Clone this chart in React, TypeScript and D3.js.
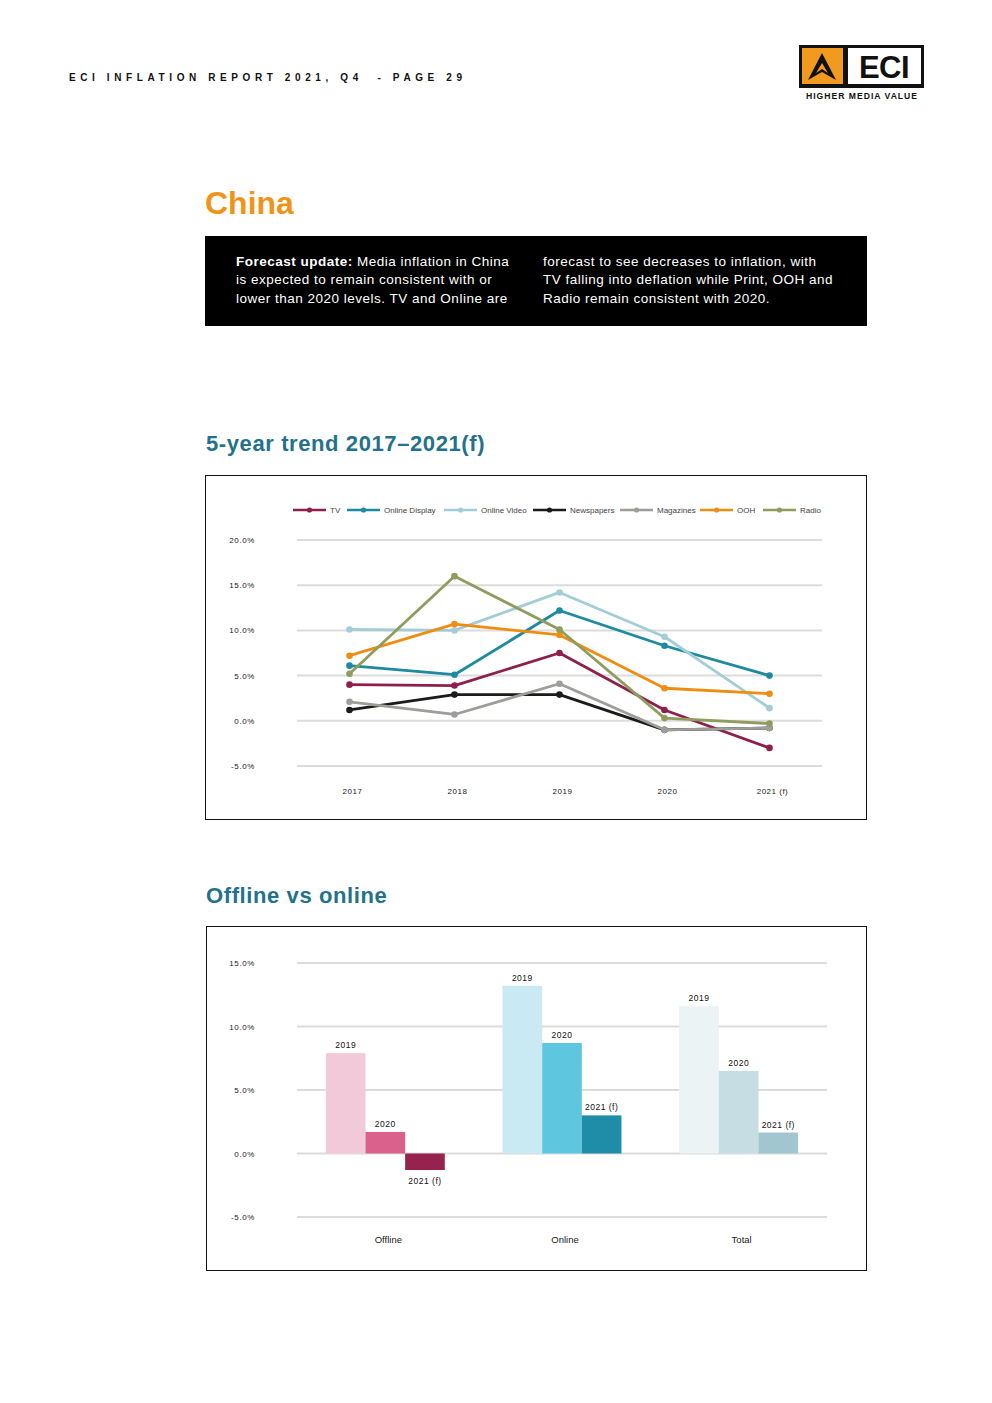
import React, { useEffect, useRef } from 'react';
import * as d3 from 'd3';

// ---- data ----
const years = ['2017', '2018', '2019', '2020', '2021 (f)'];

const lineSeries = [
  { name: 'TV', color: '#8e1f4d', values: [4.0, 3.9, 7.5, 1.2, -3.0] },
  { name: 'Online Display', color: '#1e8aa0', values: [6.1, 5.1, 12.2, 8.3, 5.0] },
  { name: 'Online Video', color: '#a3cdd6', values: [10.1, 10.0, 14.2, 9.3, 1.4] },
  { name: 'Newspapers', color: '#1b1b1b', values: [1.2, 2.9, 2.9, -1.0, -0.8] },
  { name: 'Magazines', color: '#9d9d9a', values: [2.1, 0.7, 4.1, -1.0, -0.8] },
  { name: 'OOH', color: '#ee8d12', values: [7.2, 10.7, 9.5, 3.6, 3.0] },
  { name: 'Radio', color: '#8f9c5e', values: [5.2, 16.0, 10.1, 0.3, -0.3] }
];

const lineTicks = [-5, 0, 5, 10, 15, 20];

const barCategories = ['Offline', 'Online', 'Total'];
const barYears = ['2019', '2020', '2021 (f)'];
const offlineValues = [7.9, 1.7, -1.3];
const onlineValues = [13.2, 8.7, 3.0];
const totalValues = [11.6, 6.5, 1.65];
const offlineColors = ['#f2c9d8', '#d9618b', '#96234d'];
const onlineColors = ['#c9eaf3', '#5fc6e0', '#1f8da8'];
const totalColors = ['#ebf3f5', '#c6dde3', '#a1c6cf'];
const barTicks = [-5, 0, 5, 10, 15];

const FONT = '"Liberation Sans", Arial, sans-serif';

const App: React.FC = () => {
  const svgRef = useRef<SVGSVGElement>(null);

  useEffect(() => {
    if (!svgRef.current) return;
    const svg = d3.select(svgRef.current);
    svg.selectAll('*').remove();

    svg.append('rect').attr('width', 992).attr('height', 1403).attr('fill', '#fff');

    // header
    svg.append('text')
      .attr('x', 69).attr('y', 81)
      .attr('font-family', FONT).attr('font-weight', 700)
      .attr('font-size', 10).attr('letter-spacing', 4.6)
      .attr('fill', '#111')
      .attr('xml:space', 'preserve')
      .text('ECI INFLATION REPORT 2021, Q4  - PAGE 29');

    // logo
    const logo = svg.append('g');
    logo.append('rect').attr('x', 799).attr('y', 45).attr('width', 125).attr('height', 43).attr('fill', '#111');
    logo.append('rect').attr('x', 802).attr('y', 48).attr('width', 41).attr('height', 36).attr('fill', '#f29a1e');
    logo.append('rect').attr('x', 848).attr('y', 48).attr('width', 73).attr('height', 36).attr('fill', '#fff');
    logo.append('path')
      .attr('d', 'M822,53 L836,80 L822,72 L808,80 Z M822,63 L828,73 L822,69 L816,73 Z')
      .attr('fill', '#111').attr('fill-rule', 'evenodd');
    logo.append('text')
      .attr('x', 884).attr('y', 78).attr('text-anchor', 'middle')
      .attr('font-family', FONT).attr('font-weight', 900)
      .attr('font-size', 31).attr('fill', '#111').attr('letter-spacing', -0.5)
      .text('ECI');
    logo.append('text')
      .attr('x', 862).attr('y', 99).attr('text-anchor', 'middle')
      .attr('font-family', FONT).attr('font-weight', 900)
      .attr('font-size', 8.6).attr('fill', '#111').attr('letter-spacing', 1.0)
      .text('HIGHER MEDIA VALUE');

    // title
    svg.append('text')
      .attr('x', 205).attr('y', 214)
      .attr('font-family', FONT).attr('font-weight', 700)
      .attr('font-size', 32).attr('fill', '#ef9418')
      .text('China');

    // forecast box
    svg.append('rect').attr('x', 205).attr('y', 236).attr('width', 662).attr('height', 90).attr('fill', '#000');
    const bodyText = (x: number, y: number) =>
      svg.append('text').attr('x', x).attr('y', y)
        .attr('font-family', FONT).attr('font-size', 13.5)
        .attr('letter-spacing', 0.5).attr('fill', '#fff');
    const l1 = bodyText(236, 266);
    l1.append('tspan').attr('font-weight', 700).text('Forecast update:');
    l1.append('tspan').text(' Media inflation in China');
    bodyText(236, 284).text('is expected to remain consistent with or');
    bodyText(236, 303).text('lower than 2020 levels. TV and Online are');
    bodyText(543, 266).text('forecast to see decreases to inflation, with');
    bodyText(543, 284).text('TV falling into deflation while Print, OOH and');
    bodyText(543, 303).text('Radio remain consistent with 2020.');

    // section titles
    const sectionTitle = (y: number, t: string) =>
      svg.append('text').attr('x', 206).attr('y', y)
        .attr('font-family', FONT).attr('font-weight', 700)
        .attr('font-size', 22).attr('letter-spacing', 0.6)
        .attr('fill', '#23718b').text(t);
    sectionTitle(451, '5-year trend 2017\u20132021(f)');
    sectionTitle(903, 'Offline vs online');

    const tickFmt = (v: number) => `${v.toFixed(1)}%`;

    // ---------- line chart ----------
    svg.append('rect').attr('x', 205.5).attr('y', 475.5).attr('width', 661).attr('height', 344)
      .attr('fill', 'none').attr('stroke', '#111').attr('stroke-width', 1);

    const x = d3.scalePoint<string>().domain(years).range([297, 822]).padding(0.5);
    const y = d3.scaleLinear().domain([-5, 20]).range([766, 540]);

    const lg = svg.append('g');
    lg.selectAll('line.grid').data(lineTicks).enter().append('line')
      .attr('x1', 297).attr('x2', 822)
      .attr('y1', d => y(d)).attr('y2', d => y(d))
      .attr('stroke', '#dcdcdc').attr('stroke-width', 2);
    lg.selectAll('text.tick').data(lineTicks).enter().append('text')
      .attr('x', 255).attr('y', d => y(d) + 3)
      .attr('text-anchor', 'end')
      .attr('font-family', FONT).attr('font-size', 8).attr('letter-spacing', 0.6)
      .attr('fill', '#222').text(d => tickFmt(d));
    lg.selectAll('text.xl').data(years).enter().append('text')
      .attr('x', d => (x(d) as number) + 3).attr('y', 794)
      .attr('text-anchor', 'middle')
      .attr('font-family', FONT).attr('font-size', 8).attr('letter-spacing', 0.5)
      .attr('fill', '#222').text(d => d);

    const line = d3.line<number>()
      .x((_, i) => x(years[i]) as number)
      .y(d => y(d));

    lineSeries.forEach(s => {
      const g = lg.append('g');
      g.append('path').attr('d', line(s.values))
        .attr('fill', 'none').attr('stroke', s.color)
        .attr('stroke-width', 2.8).attr('stroke-linejoin', 'round');
      g.selectAll('circle').data(s.values).enter().append('circle')
        .attr('cx', (_, i) => x(years[i]) as number)
        .attr('cy', d => y(d)).attr('r', 3.3)
        .attr('fill', s.color);
    });

    // legend
    const legendX = [293, 347, 444, 533, 620, 700, 763];
    const legend = lg.append('g');
    lineSeries.forEach((s, i) => {
      const g = legend.append('g').attr('transform', `translate(${legendX[i]},510)`);
      g.append('line').attr('x1', 0).attr('x2', 33).attr('y1', 0).attr('y2', 0)
        .attr('stroke', s.color).attr('stroke-width', 2.6);
      g.append('circle').attr('cx', 16.5).attr('cy', 0).attr('r', 2.6).attr('fill', s.color);
      g.append('text').attr('x', 37).attr('y', 3)
        .attr('font-family', FONT).attr('font-size', 8).attr('fill', '#444')
        .text(s.name);
    });

    // ---------- bar chart ----------
    svg.append('rect').attr('x', 206.5).attr('y', 926.5).attr('width', 660).attr('height', 344)
      .attr('fill', 'none').attr('stroke', '#111').attr('stroke-width', 1);

    const by = d3.scaleLinear().domain([-5, 15]).range([1217, 963]);
    const bx = d3.scaleBand<string>().domain(barCategories).range([297, 827])
      .paddingInner(0.327).paddingOuter(0.1635);
    const bxi = d3.scaleBand<string>().domain(barYears).range([0, bx.bandwidth()]);

    const bg = svg.append('g');
    bg.selectAll('line.grid').data(barTicks).enter().append('line')
      .attr('x1', 297).attr('x2', 827)
      .attr('y1', d => by(d)).attr('y2', d => by(d))
      .attr('stroke', '#dcdcdc').attr('stroke-width', 2);
    bg.selectAll('text.tick').data(barTicks).enter().append('text')
      .attr('x', 255).attr('y', d => by(d) + 3)
      .attr('text-anchor', 'end')
      .attr('font-family', FONT).attr('font-size', 8).attr('letter-spacing', 0.6)
      .attr('fill', '#222').text(d => tickFmt(d));

    const groups = [
      { cat: 'Offline', values: offlineValues, colors: offlineColors },
      { cat: 'Online', values: onlineValues, colors: onlineColors },
      { cat: 'Total', values: totalValues, colors: totalColors }
    ];
    groups.forEach(gr => {
      const g = bg.append('g').attr('transform', `translate(${bx(gr.cat)},0)`);
      gr.values.forEach((v, i) => {
        const yr = barYears[i];
        const x0 = bxi(yr) as number;
        g.append('rect')
          .attr('x', x0).attr('width', bxi.bandwidth())
          .attr('y', by(Math.max(0, v)))
          .attr('height', Math.abs(by(v) - by(0)))
          .attr('fill', gr.colors[i]);
        g.append('text')
          .attr('x', x0 + bxi.bandwidth() / 2)
          .attr('y', v >= 0 ? by(v) - 5 : by(v) + 14)
          .attr('text-anchor', 'middle')
          .attr('font-family', FONT).attr('font-size', 8.5).attr('letter-spacing', 0.5)
          .attr('fill', '#111').text(yr);
      });
      g.append('text')
        .attr('x', bx.bandwidth() / 2 + 3).attr('y', 1243)
        .attr('text-anchor', 'middle')
        .attr('font-family', FONT).attr('font-size', 9.5)
        .attr('fill', '#222').text(gr.cat);
    });
  }, []);

  return (
    <svg
      ref={svgRef}
      width={992}
      height={1403}
      viewBox="0 0 992 1403"
      style={{ position: 'absolute', left: 0, top: 0, display: 'block' }}
    />
  );
};

export default App;
